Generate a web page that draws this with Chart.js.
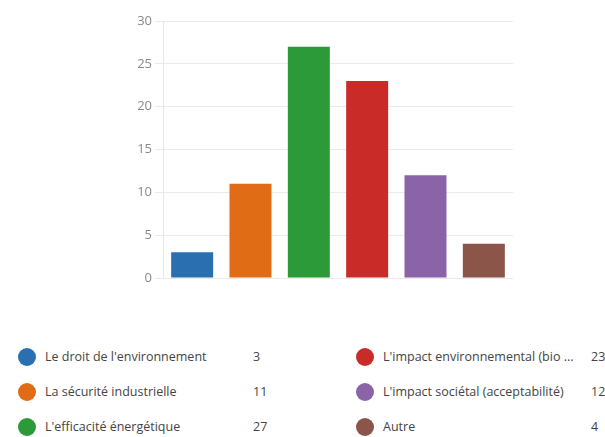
<!DOCTYPE html>
<html>
<head>
<meta charset="utf-8">
<script src="https://cdn.jsdelivr.net/npm/chart.js@4/dist/chart.umd.min.js"></script>
<style>
  html, body { margin: 0; padding: 0; background: #fff; overflow: hidden; }
  body { width: 605px; height: 437px; position: relative; font-family: "Open Sans", "Noto Sans", sans-serif; }
  #wrap { position: absolute; left: 0; top: 0; width: 605px; height: 300px; }
  .item { position: absolute; height: 20px; font-size: 12.5px; color: #444; white-space: nowrap; }
  .dot { position: absolute; left: 0; top: 1px; width: 18px; height: 18px; border-radius: 50%; }
  .lbl { position: absolute; left: 27px; top: 1px; }
  .val { position: absolute; top: 1px; }
</style>
</head>
<body>
<div id="wrap"><canvas id="chart"></canvas></div>
<div id="legend"></div>
<script>
// Survey answers
var categories = [
  "Le droit de l'environnement",
  "La sécurité industrielle",
  "L'efficacité énergétique",
  "L'impact environnemental (bio ...",
  "L'impact sociétal (acceptabilité)",
  "Autre"
];
var counts = [3, 11, 27, 23, 12, 4];
var colors = ['#2a6fb0', '#e06c15', '#2d9a3a', '#c92c28', '#8b63a8', '#8b5549'];
var yTicks = [0, 5, 10, 15, 20, 25, 30];

// Build the legend under the chart, two columns of three
var legend = document.getElementById('legend');
categories.forEach(function (name, i) {
  var col = Math.floor(i / 3);
  var row = i % 3;
  var item = document.createElement('div');
  item.className = 'item';
  item.style.left = (col === 0 ? 18 : 356) + 'px';
  item.style.top = (347 + row * 35) + 'px';
  item.innerHTML = '<span class="dot" style="background:' + colors[i] + '"></span>' +
    '<span class="lbl">' + name + '</span>' +
    '<span class="val" style="left:235px">' + counts[i] + '</span>';
  legend.appendChild(item);
});

var ctx = document.getElementById('chart').getContext('2d');
var chart = new Chart(ctx, {
  type: 'bar',
  data: {
    labels: categories,
    datasets: [{
      data: counts,
      backgroundColor: colors,
      borderWidth: 0,
      barPercentage: 0.72,
      categoryPercentage: 1
    }]
  },
  options: {
    responsive: true,
    maintainAspectRatio: false,
    animation: false,
    layout: { padding: { left: 0, right: 92, top: 21, bottom: 22 } },
    plugins: { legend: { display: false }, tooltip: { enabled: false } },
    scales: {
      x: { display: false },
      y: {
        min: 0,
        max: 30,
        afterFit: function (scale) { scale.width = 163; },
        afterBuildTicks: function (scale) {
          scale.ticks = yTicks.map(function (v) { return { value: v }; });
        },
        grid: { color: '#ebebeb', tickLength: 8 },
        border: { color: '#e6e6e6' },
        ticks: {
          padding: 3,
          color: '#8a8a8a',
          font: { family: '"Open Sans", sans-serif', size: 13 }
        }
      }
    }
  }
});
</script>
</body>
</html>
